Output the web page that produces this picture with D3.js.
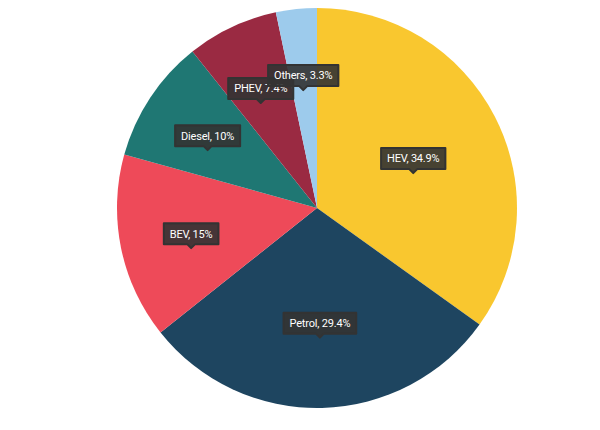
<!DOCTYPE html>
<html><head><meta charset="utf-8">
<script src="https://cdn.jsdelivr.net/npm/d3@7"></script>
<style>body{margin:0;background:#fff}</style>
</head><body>
<svg id="chart" width="600" height="430"></svg>
<script>
// pie data, clockwise from 12 o'clock
var labels = ["HEV", "Petrol", "BEV", "Diesel", "PHEV", "Others"];
var values = [34.9, 29.4, 15, 10, 7.4, 3.3];
var colors = ["#F9C72F", "#1E4560", "#EE4A59", "#1F7773", "#9A2A42", "#9DCBEC"];

var svg = d3.select("#chart");
var cx = 317, cy = 208, r = 200;
var g = svg.append("g").attr("transform", "translate(" + cx + "," + cy + ")");

var data = labels.map(function(l, i){ return {label: l, value: values[i], color: colors[i]}; });
var pie = d3.pie().sort(null).value(function(d){ return d.value; });
var arc = d3.arc().innerRadius(0).outerRadius(r);
var arcs = pie(data);

g.selectAll("path.slice").data(arcs).enter().append("path")
  .attr("class", "slice")
  .attr("d", arc)
  .attr("fill", function(d){ return d.data.color; });

// label sits near the area centroid of each sector
arcs.forEach(function(a){
  var th = a.endAngle - a.startAngle;
  var mid = (a.startAngle + a.endAngle) / 2;
  var k = 4 * Math.sin(th / 2) / (3 * th);
  var x = Math.sin(mid) * r * k, y = -Math.cos(mid) * r * k;
  var txt = a.data.label + ", " + a.data.value + "%";
  var lg = g.append("g").attr("transform", "translate(" + x + "," + y + ")");
  var t = lg.append("text").text(txt)
    .attr("text-anchor", "middle").attr("dy", "0.35em")
    .attr("font-family", "Roboto, sans-serif").attr("font-size", 11)
    .attr("fill", "#fff").attr("letter-spacing", "-0.2");
  var w = t.node().getComputedTextLength() + 12, h = 21;
  lg.insert("path", "text")
    .attr("d", "M" + (-w/2) + "," + (-h/2) + "h" + w + "v" + h + "h" + (-(w/2 - 4)) +
      "l-4,4l-4,-4h" + (-(w/2 - 4)) + "z")
    .attr("fill", "#333").attr("fill-opacity", 0.9)
    .attr("stroke", "#333").attr("stroke-linejoin", "round").attr("stroke-width", 2);
});
</script>
</body></html>
